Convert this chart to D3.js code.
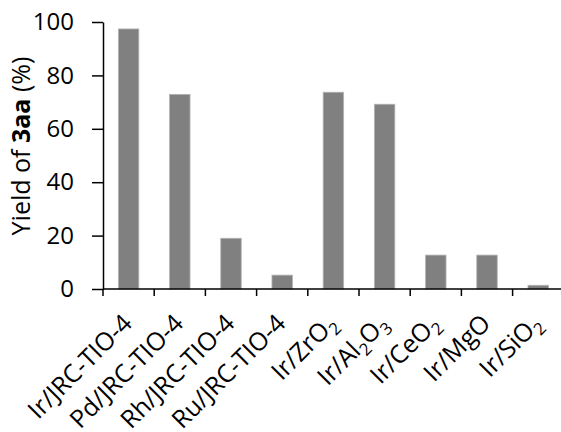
<!DOCTYPE html>
<html>
<head>
<meta charset="utf-8">
<script src="https://cdn.jsdelivr.net/npm/d3@7"></script>
<style>
  body { margin: 0; background: #fff; }
  text { font-family: "Open Sans", sans-serif; }
</style>
</head>
<body>
<div id="chart"></div>
<script>
// catalysts (label parts: [text, isSubscript])
var catalysts = [
    [["Ir/JRC-TIO-4", 0]],
    [["Pd/JRC-TIO-4", 0]],
    [["Rh/JRC-TIO-4", 0]],
    [["Ru/JRC-TIO-4", 0]],
    [["Ir/ZrO", 0], ["2", 1]],
    [["Ir/Al", 0], ["2", 1], ["O", 0], ["3", 1]],
    [["Ir/CeO", 0], ["2", 1]],
    [["Ir/MgO", 0]],
    [["Ir/SiO", 0], ["2", 1]]
]
var yields = [97.4, 72.9, 19.0, 5.2, 73.7, 69.2, 12.7, 12.7, 1.4]
var yTicks = [0, 20, 40, 60, 80, 100]

var margin = { top: 22, right: 0, bottom: 143, left: 103 },
    width = 561 - margin.left - margin.right,
    height = 432 - margin.top - margin.bottom

var svg = d3.select("#chart")
    .append("svg")
    .attr("width", 561)
    .attr("height", 432)
    .append("g")
    .attr("transform", "translate(" + margin.left + "," + margin.top + ")")

var idx = d3.range(catalysts.length)
var step = 51.2

var x = d3.scaleBand()
    .domain(idx)
    .range([0, step * catalysts.length])
    .paddingInner(0.6)
    .paddingOuter(0.3)

var y = d3.scaleLinear()
    .domain([0, 100])
    .range([height, 0])

// bars
svg.append("g")
    .selectAll("rect")
    .data(idx)
    .enter().append("rect")
    .attr("x", function (i) { return x(i) })
    .attr("y", function (i) { return y(yields[i]) })
    .attr("width", x.bandwidth())
    .attr("height", function (i) { return y(0) - y(yields[i]) })
    .attr("fill", "#808080")
    .attr("stroke", "#b4b4b4")
    .attr("stroke-width", 0.8)

// y axis
var yAxis = svg.append("g")
    .call(d3.axisLeft(y).tickValues(yTicks).tickSize(11).tickPadding(18).tickSizeOuter(0))
yAxis.select(".domain").attr("stroke", "#000").attr("stroke-width", 1.5)
yAxis.selectAll(".tick line").attr("stroke", "#000").attr("stroke-width", 1.5)
yAxis.selectAll(".tick text")
    .attr("font-size", 24)
    .attr("fill", "#000")
    .attr("font-family", "'Open Sans', sans-serif")

// x axis (ticks between categories)
var xg = svg.append("g").attr("transform", "translate(0," + height + ")")
xg.append("line")
    .attr("x1", 0).attr("x2", width)
    .attr("stroke", "#000").attr("stroke-width", 1.5)
xg.selectAll(".xt")
    .data(d3.range(catalysts.length + 1))
    .enter().append("line")
    .attr("x1", function (i) { return i * step }).attr("x2", function (i) { return i * step })
    .attr("y1", 0).attr("y2", 7)
    .attr("stroke", "#000").attr("stroke-width", 1.5)

// rotated labels
var labels = xg.selectAll(".lbl")
    .data(idx)
    .enter().append("text")
    .attr("transform", function (i) {
        return "translate(" + (x(i) + x.bandwidth() / 2 + 5) + ",36) rotate(-45)"
    })
    .attr("text-anchor", "end")
    .attr("font-size", 25)
    .attr("fill", "#000")

labels.each(function (i) {
    var t = d3.select(this)
    catalysts[i].forEach(function (p, k) {
        var s = t.append("tspan").text(p[0]).attr("fill", "#000")
        if (p[1]) s.attr("font-size", 17).attr("dy", 6)
        else if (k > 0) s.attr("dy", -6)
    })
})

// y title
var title = svg.append("text")
    .attr("transform", "translate(-73,124) rotate(-90)")
    .attr("text-anchor", "middle")
    .attr("font-size", 25)
    .attr("fill", "#000")
title.append("tspan").text("Yield of ")
title.append("tspan").text("3aa").attr("font-weight", "bold")
title.append("tspan").text(" (%)")
</script>
</body>
</html>
